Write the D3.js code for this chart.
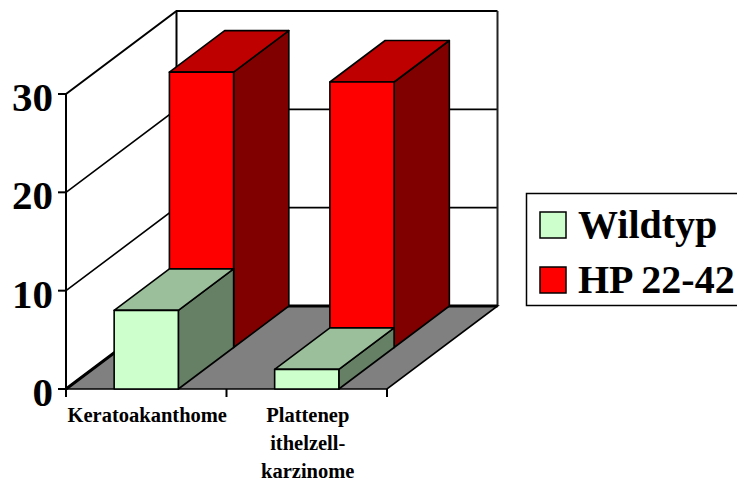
<!DOCTYPE html>
<html>
<head>
<meta charset="utf-8">
<style>
html, body { margin: 0; padding: 0; background: #fff; overflow: hidden; }
svg { display: block; }
text { font-family: "Liberation Serif", serif; font-weight: bold; fill: #000; }
</style>
<script src="https://cdn.jsdelivr.net/npm/d3@7"></script>
</head>
<body>
<svg id="chart" width="737" height="481"></svg>
<script>
const categories = ["Keratoakanthome", "Plattenepithelzell-karzinome"];
const categoryLines = [["Keratoakanthome"], ["Plattenep", "ithelzell-", "karzinome"]];
const seriesNames = ["Wildtyp", "HP 22-42"];
const wildtypValues = [8, 2];
const hpValues = [28, 27];
const yTicks = [0, 10, 20, 30];

const frontColors = ["#ccffcc", "#ff0000"];
const topColors = ["#9abf9a", "#bf0000"];
const sideColors = ["#668066", "#800000"];

const svg = d3.select("#chart");

// Front plane of the 3D plot and the shear that carries a point towards the back wall.
const x = d3.scaleBand().domain(categories).range([66, 387]);
const y = d3.scaleLinear().domain([0, 30]).range([389, 94]);
const depthX = d3.scaleLinear().domain([0, 1]).range([0, 110.5]);
const depthY = d3.scaleLinear().domain([0, 1]).range([0, -83]);

const project = (px, value, depth) => [px + depthX(depth), y(value) + depthY(depth)];
const line = d3.line();
const closed = pts => line(pts) + "Z";

const [x0, x1] = x.range();
const g = svg.append("g").attr("fill", "none").attr("stroke", "#000");

// Walls: outer frame and gridlines running along the left wall and the back wall.
yTicks.filter(t => t > 0).forEach(t => {
  const w = t === 30 ? 2 : 1.6;
  g.append("path").attr("stroke-width", w).attr("stroke-linejoin", "miter")
    .attr("d", line([project(x0, t, 0), project(x0, t, 1), project(x1, t, 1)]));
});
g.append("path").attr("stroke-width", 2)
  .attr("d", line([project(x0, 30, 1), project(x0, 0, 1)]));
g.append("path").attr("stroke-width", 2).attr("stroke", "#222")
  .attr("d", line([project(x1, 30, 1), project(x1, 0, 1)]));
g.append("path").attr("stroke-width", 2)
  .attr("d", line([project(x0, 30, 0), project(x0, 0, 0)]));

// Floor
g.append("path").attr("fill", "#808080").attr("stroke-width", 1.6)
  .attr("d", closed([project(x0, 0, 0), project(x1, 0, 0), project(x1, 0, 1), project(x0, 0, 1)]));
g.append("path").attr("stroke-width", 3)
  .attr("d", line([project(x0, 0, 0), project(x0, 0, 1), project(x1, 0, 1)]));

// Axis ticks
yTicks.forEach(t => {
  g.append("line").attr("stroke-width", 2)
    .attr("x1", x0 - 8).attr("x2", x0).attr("y1", y(t)).attr("y2", y(t));
});
[x0, x(categories[1]), x1].forEach(v => {
  g.append("line").attr("stroke-width", 2)
    .attr("x1", v).attr("x2", v).attr("y1", y(0)).attr("y2", y(0) + 8);
});

// A single box: left edge and width in plot units, extruded over one depth band.
function box(parent, left, width, value, d0, d1, s) {
  const bars = parent.append("g").attr("stroke", "#000").attr("stroke-width", 1.6)
    .attr("stroke-linejoin", "round");
  const r = left + width;
  bars.append("path").attr("fill", sideColors[s])
    .attr("d", closed([project(r, 0, d0), project(r, 0, d1), project(r, value, d1), project(r, value, d0)]));
  bars.append("path").attr("fill", topColors[s])
    .attr("d", closed([project(left, value, d0), project(r, value, d0), project(r, value, d1), project(left, value, d1)]));
  bars.append("path").attr("fill", frontColors[s])
    .attr("d", closed([project(left, 0, d0), project(r, 0, d0), project(r, value, d0), project(left, value, d0)]));
}

const barOffset = 0.3 * x.bandwidth();
const barWidth = 0.4 * x.bandwidth();
const bars = svg.append("g");
// Rear row first so the front row overlaps it.
categories.forEach((c, i) => box(bars, x(c) + barOffset, barWidth, hpValues[i], 0.5, 1, 1));
categories.forEach((c, i) => box(bars, x(c) + barOffset, barWidth, wildtypValues[i], 0, 0.5, 0));

// Value axis labels
svg.append("g").selectAll("text").data(yTicks).join("text")
  .attr("x", 53).attr("y", d => y(d) + 17)
  .attr("text-anchor", "end").attr("font-size", 41)
  .text(d => d);

// Category labels
categories.forEach((c, i) => {
  const cx = x(c) + x.bandwidth() / 2 + 1;
  svg.append("text")
    .attr("text-anchor", "middle").attr("font-size", 20.5)
    .attr("x", cx).attr("y", 422)
    .selectAll("tspan").data(categoryLines[i]).join("tspan")
    .attr("x", cx).attr("dy", (d, k) => k ? 28 : 0)
    .text(d => d);
});

// Legend
const legend = svg.append("g");
legend.append("rect").attr("x", 526.5).attr("y", 193.5).attr("width", 240).attr("height", 112)
  .attr("fill", "#fff").attr("stroke", "#000").attr("stroke-width", 1.5);
seriesNames.forEach((name, i) => {
  const top = 212 + i * 55;
  legend.append("rect").attr("x", 540).attr("y", top).attr("width", 26).attr("height", 26)
    .attr("fill", frontColors[i]).attr("stroke", "#000").attr("stroke-width", 1.5);
  legend.append("text").attr("x", 578).attr("y", top + 26).attr("font-size", 40).text(name);
});
</script>
</body>
</html>
